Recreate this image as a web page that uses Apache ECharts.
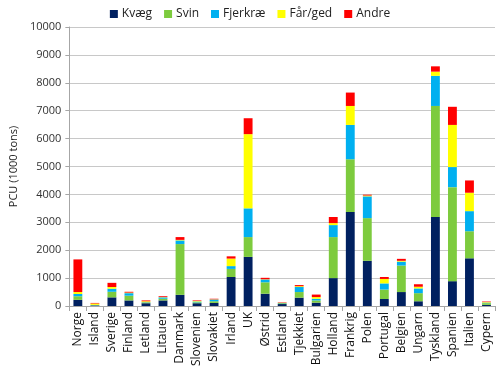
<!DOCTYPE html>
<html><head><meta charset="utf-8">
<script src="https://cdn.jsdelivr.net/npm/echarts@6/dist/echarts.min.js"></script>
<style>html,body{margin:0;padding:0;background:#fff}#c{width:500px;height:373px}</style>
</head><body><div id="c"></div>
<script>
var categories = ["Norge","Island","Sverige","Finland","Letland","Litauen","Danmark","Slovenien","Slovakiet","Irland","UK","Østrid","Estland","Tjekkiet","Bulgarien","Holland","Frankrig","Polen","Portugal","Belgien","Ungarn","Tyskland","Spanien","Italien","Cypern"];
var kvaeg   = [220, 20, 310, 200, 100, 200, 400, 100, 110, 1040, 1760, 440, 70, 300, 120, 1000, 3370, 1620, 250, 500, 170, 3190, 890, 1710, 40];
var svin    = [130, 10, 200, 170, 30, 60, 1820, 30, 60, 290, 710, 410, 30, 200, 80, 1470, 1890, 1530, 340, 950, 290, 3980, 3370, 970, 60];
var fjerkrae= [80, 10, 110, 90, 10, 50, 130, 30, 60, 100, 1030, 100, 10, 180, 60, 430, 1230, 780, 220, 140, 170, 1080, 720, 720, 20];
var faarged = [70, 50, 60, 20, 30, 10, 20, 20, 10, 270, 2660, 10, 5, 30, 60, 70, 680, 30, 160, 30, 60, 150, 1510, 660, 20];
var andre   = [1170, 20, 150, 30, 30, 30, 100, 20, 20, 80, 570, 50, 15, 40, 90, 220, 480, 30, 70, 70, 90, 190, 650, 440, 20];
var seriesNames = ["Kvæg","Svin","Fjerkræ","Får/ged","Andre"];
var yTicks = [0,1000,2000,3000,4000,5000,6000,7000,8000,9000,10000];

var colors = ["#002060","#7DCB3E","#00B0F0","#FFFF00","#FF0000"];
var dataSets = [kvaeg, svin, fjerkrae, faarged, andre];
var font = "Open Sans";
var chart = echarts.init(document.getElementById('c'), null, {renderer:'canvas'});
chart.setOption({
  animation:false,
  color: colors,
  textStyle:{fontFamily:font},
  legend:{
    top:3, left:'center',
    itemWidth:8, itemHeight:8, itemGap:12,
    icon:'rect',
    textStyle:{fontSize:12, color:'#222', fontFamily:font, padding:[0,0,0,-1]},
    data: seriesNames
  },
  grid:{left:63, right:5, top:27, bottom:67},
  xAxis:{
    type:'category', data:categories,
    axisLine:{lineStyle:{color:'#A6A6A6'}},
    axisTick:{show:true, alignWithLabel:false, length:5, lineStyle:{color:'#A6A6A6'}},
    axisLabel:{rotate:90, interval:0, fontSize:12, color:'#111', fontFamily:font, margin:6}
  },
  yAxis:{
    type:'value', min:yTicks[0], max:yTicks[yTicks.length-1], interval:1000,
    name:'PCU (1000 tons)', nameLocation:'middle', nameGap:46, nameRotate:90,
    nameTextStyle:{fontSize:11, color:'#222', fontFamily:font},
    axisLine:{show:true, lineStyle:{color:'#A6A6A6'}},
    axisTick:{show:true, length:4, lineStyle:{color:'#A6A6A6'}},
    axisLabel:{fontSize:11, color:'#333', fontFamily:font, margin:8, formatter:function(v){return String(v);}},
    splitLine:{lineStyle:{color:'#C8C8C8', width:1}}
  },
  series: seriesNames.map(function(n,i){
    return {name:n, type:'bar', stack:'a', barWidth:'52%', data:dataSets[i]};
  })
});
</script></body></html>
